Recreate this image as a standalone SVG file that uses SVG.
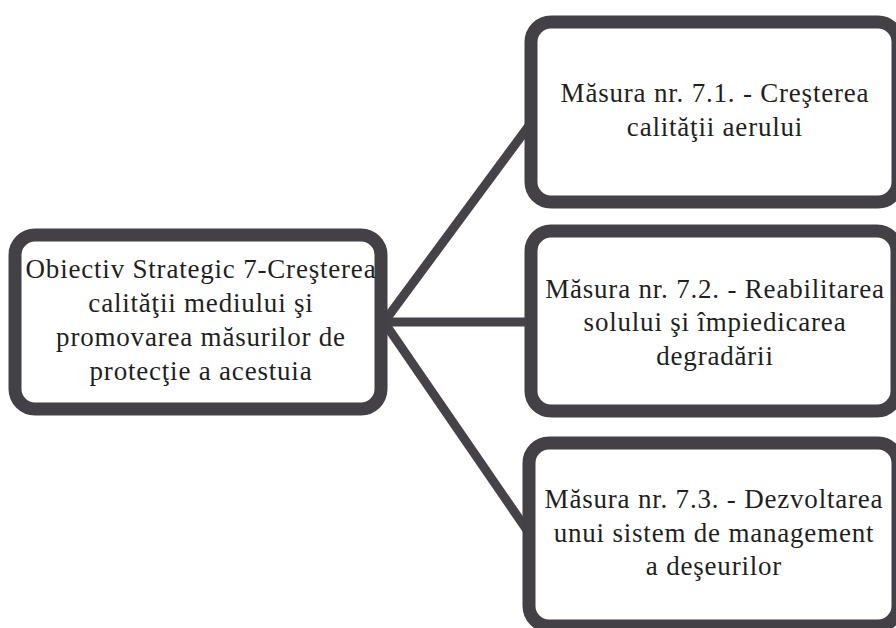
<svg xmlns="http://www.w3.org/2000/svg" width="896" height="628" viewBox="0 0 896 628">
  <style>
    .box { fill: #ffffff; stroke: #434146; stroke-width: 13; }
    .conn { stroke: #454348; stroke-width: 9; stroke-linecap: butt; fill: none; }
    .t { font-family: "Liberation Serif", "Times New Roman", serif; font-size: 27px; fill: #1f1f22; text-anchor: middle; letter-spacing: 0.8px; }
  </style>
  <rect width="896" height="628" fill="#ffffff"/>
  <g id="connectors">
    <line class="conn" x1="384" y1="322" x2="531" y2="123"/>
    <line class="conn" x1="384" y1="322" x2="531" y2="322"/>
    <line class="conn" x1="384" y1="322" x2="529" y2="533"/>
  </g>
  <g id="node-obiectiv">
    <rect class="box" x="15" y="235" width="366" height="174" rx="20"/>
    <text class="t" x="201" y="278">Obiectiv Strategic 7-Creşterea</text>
    <text class="t" x="201" y="312">calităţii mediului şi</text>
    <text class="t" x="201" y="346">promovarea măsurilor de</text>
    <text class="t" x="201" y="380">protecţie a acestuia</text>
  </g>
  <g id="node-masura-7-1">
    <rect class="box" x="531" y="22" width="367" height="180" rx="20"/>
    <text class="t" x="715" y="102">Măsura nr. 7.1. - Creşterea</text>
    <text class="t" x="715" y="136">calităţii aerului</text>
  </g>
  <g id="node-masura-7-2">
    <rect class="box" x="531" y="231" width="366" height="180" rx="20"/>
    <text class="t" x="715" y="298">Măsura nr. 7.2. - Reabilitarea</text>
    <text class="t" x="715" y="331">solului şi împiedicarea</text>
    <text class="t" x="715" y="365">degradării</text>
  </g>
  <g id="node-masura-7-3">
    <rect class="box" x="529" y="443" width="369" height="183" rx="20"/>
    <text class="t" x="714" y="508">Măsura nr. 7.3. - Dezvoltarea</text>
    <text class="t" x="714" y="542">unui sistem de management</text>
    <text class="t" x="714" y="575">a deşeurilor</text>
  </g>
</svg>
